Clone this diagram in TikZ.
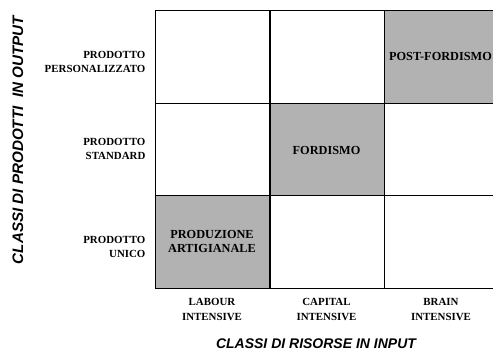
\documentclass[tikz,border=0pt]{standalone}
\usepackage{fontspec}
\setmainfont{Liberation Serif}
\setsansfont{Liberation Sans}
\begin{document}
\begin{tikzpicture}[x=1pt,y=-1pt,
  cell/.style={draw=black,line width=1.2pt,minimum width=114pt,minimum height=92.5pt,inner sep=0pt,anchor=north west},
  hot/.style={cell,fill=black!30},
  celltxt/.style={font=\fontsize{12.3}{14}\selectfont\bfseries,align=center},
  rowlab/.style={font=\fontsize{10.9}{14.5}\selectfont\bfseries,align=right,anchor=east},
  collab/.style={font=\fontsize{10.9}{15}\selectfont\bfseries,align=center},
  axlab/.style={font=\sffamily\bfseries\itshape\fontsize{14}{16}\selectfont}]
\useasboundingbox (0,0) rectangle (493,356);
\begin{scope}
\clip (0,0) rectangle (493,356);
\node[cell] (a1) at (155,10) {};
\node[cell] (a2) at (269.5,10) {};
\node[hot]  (a3) at (384,10) {};
\node[cell] (b1) at (155,102.5) {};
\node[hot]  (b2) at (269.5,102.5) {};
\node[cell] (b3) at (384,102.5) {};
\node[hot]  (c1) at (155,195) {};
\node[cell] (c2) at (269.5,195) {};
\node[cell] (c3) at (384,195) {};
\end{scope}
\node[celltxt] (t3) at (440.5,56) {POST-FORDISMO};
\node[celltxt] (t2) at (326.5,150) {FORDISMO};
\node[celltxt] (t1) at (212,241) {PRODUZIONE\\ARTIGIANALE};
\node[rowlab] (r1) at (149,62) {PRODOTTO\\PERSONALIZZATO};
\node[rowlab] (r2) at (149,149) {PRODOTTO\\STANDARD};
\node[rowlab] (r3) at (149,247) {PRODOTTO\\UNICO};
\node[collab] (k1) at (212,309) {LABOUR\\INTENSIVE};
\node[collab] (k2) at (326.5,309) {CAPITAL\\INTENSIVE};
\node[collab] (k3) at (441,309) {BRAIN\\INTENSIVE};
\node[axlab] (xa) at (316,344) {CLASSI DI RISORSE IN INPUT};
\node[axlab,font=\sffamily\bfseries\itshape\fontsize{15.2}{17}\selectfont,rotate=90] (ya) at (18,140) {CLASSI DI PRODOTTI\ \ IN OUTPUT};
\end{tikzpicture}
\end{document}
